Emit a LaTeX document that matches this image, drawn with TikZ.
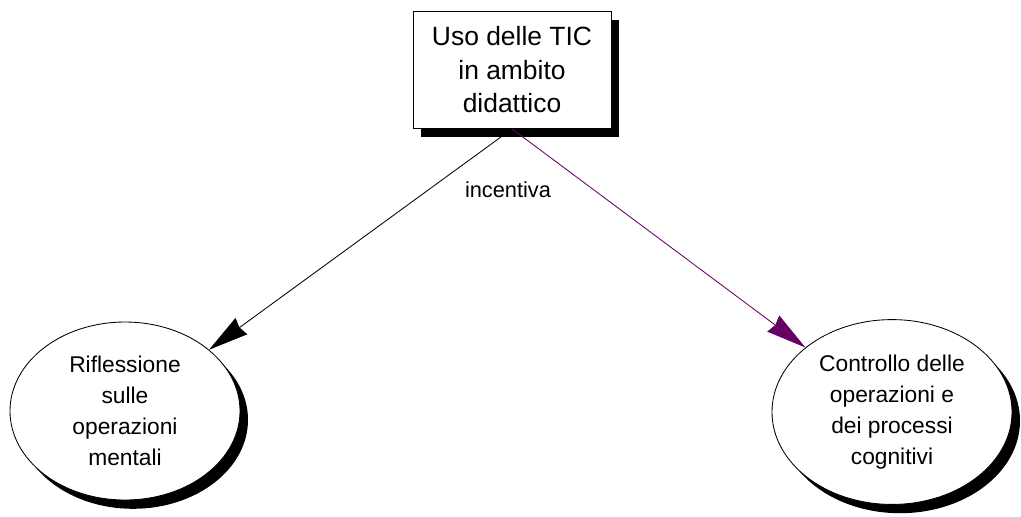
\documentclass[tikz,border=0pt]{standalone}
\usepackage{fontspec}
\setmainfont{Liberation Sans}
\usetikzlibrary{arrows.meta,shapes.geometric,shadows}
\definecolor{linkpurple}{RGB}{102,0,102}
\tikzset{
	hardshadow/.style={drop shadow={shadow xshift=0.2cm,shadow yshift=-0.22cm,fill=black,opacity=1}},
	concept/.style={draw,fill=white,line width=0.6pt,hardshadow,align=center,inner sep=0pt},
	bigarrow/.style={line width=0.6pt,-{Stealth[length=10mm,width=5mm,inset=0.6mm]}}
}
\begin{document}
\begin{tikzpicture}
				\useasboundingbox (0,0) rectangle (25.525,-12.9);
				\node[concept,rectangle,minimum width=4.95cm,minimum height=2.925cm,font=\fontsize{18.8}{23.8}\selectfont] (tic) at (12.8,-1.75) {Uso delle TIC\\in ambito\\didattico};
				\node[concept,ellipse,minimum width=5.75cm,minimum height=4.45cm,font=\fontsize{16.2}{22}\selectfont] (rifl) at (3.125,-10.275) {Riflessione\\sulle\\operazioni\\mentali};
				\node[concept,ellipse,minimum width=6cm,minimum height=4.62cm,font=\fontsize{16.2}{22}\selectfont] (contr) at (22.3,-10.3) {Controllo delle\\operazioni e\\dei processi\\cognitivi};
				\node[font=\fontsize{15.5}{18}\selectfont] (incent) at (12.7,-4.75) {incentiva};
				\draw[bigarrow] (tic.south) -- (rifl);
				\draw[bigarrow,linkpurple] (tic.south) -- (contr);
\end{tikzpicture}
\end{document}
